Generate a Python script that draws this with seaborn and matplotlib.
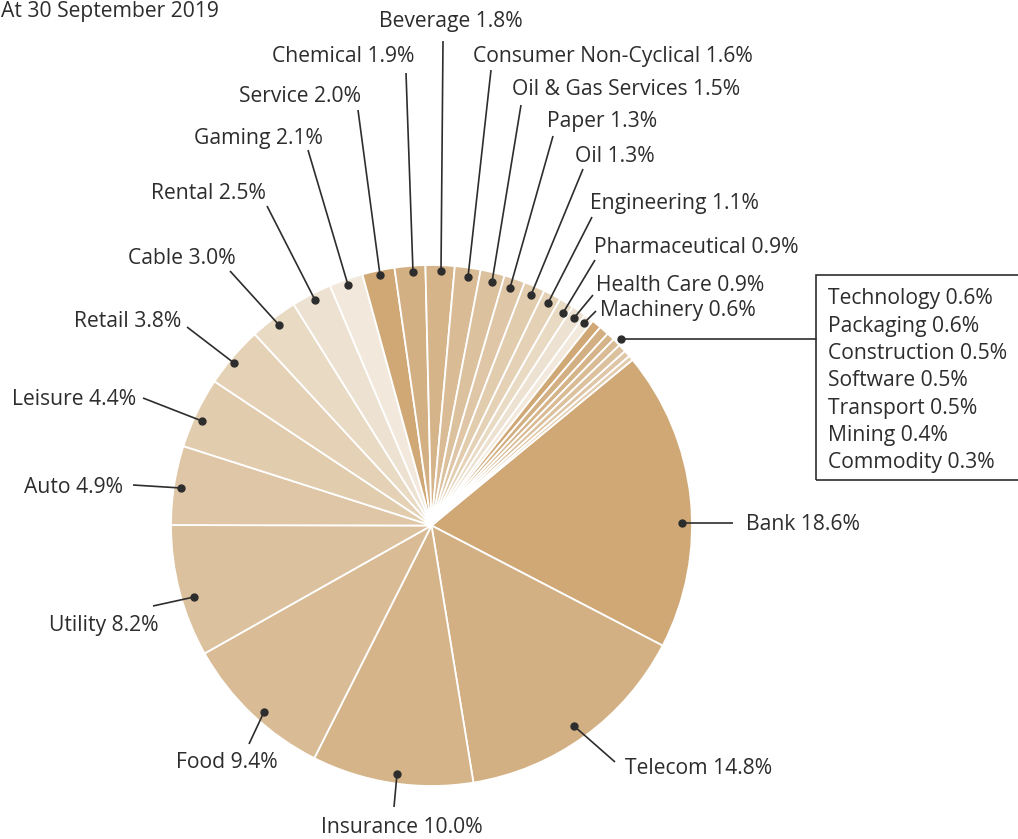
import matplotlib
matplotlib.use("Agg")
import matplotlib.pyplot as plt
import seaborn as sns
from matplotlib.patches import Rectangle

sns.set_theme(style="white")
plt.rcParams['font.family'] = ['Open Sans', 'DejaVu Sans']

# ---------------- data (clockwise from Bank) ----------------
sectors = ["Bank", "Telecom", "Insurance", "Food", "Utility", "Auto", "Leisure",
           "Retail", "Cable", "Rental", "Gaming", "Service", "Chemical", "Beverage",
           "Consumer Non-Cyclical", "Oil & Gas Services", "Paper", "Oil",
           "Engineering", "Pharmaceutical", "Health Care", "Machinery",
           "Technology", "Packaging", "Construction", "Software", "Transport",
           "Mining", "Commodity"]
shares = [18.6, 14.8, 10.0, 9.4, 8.2, 4.9, 4.4, 3.8, 3.0, 2.5, 2.1, 2.0, 1.9, 1.8,
          1.6, 1.5, 1.3, 1.3, 1.1, 0.9, 0.9, 0.6, 0.6, 0.6, 0.5, 0.5, 0.5, 0.4, 0.3]
boxed = ["Technology", "Packaging", "Construction", "Software", "Transport",
         "Mining", "Commodity"]
title_text = "At 30 September 2019"

# 11-step tan palette, repeating
shade_cycle = ["#CFA876", "#D3B083", "#D5B48A", "#D9BC96", "#DCC19E", "#DFC6A6",
               "#E2CCAE", "#E5D2B6", "#E9DAC4", "#EDE2D1", "#F2E9DC"]
palette = sns.color_palette(shade_cycle)
colors = [palette[i % len(palette)] for i in range(len(shares))]

# ---------------- layout (pixel coords, y downward) ----------------
W, H = 1018, 839
CX, CY, R = 431.5, 525.5, 260.5
# label: (text anchor x, y, ha, line start x, y, dot x, y)
layout = {
    "Bank":        (746, 523, "left", 733, 523, 682, 523),
    "Telecom":     (625, 767, "left", 615, 762, 574, 726),
    "Insurance":   (402, 826, "center", 394, 807, 397, 774),
    "Food":        (227, 761, "center", 249, 744, 264, 712),
    "Utility":     (159, 624, "right", 153, 606, 194, 597),
    "Auto":        (123, 486, "right", 133, 485, 181, 488),
    "Leisure":     (136, 398, "right", 143, 398, 202, 421),
    "Retail":      (181, 320, "right", 187, 327, 234, 363),
    "Cable":       (236, 257, "right", 230, 271, 279, 325),
    "Rental":      (266, 192, "right", 267, 206, 315, 300),
    "Gaming":      (323, 137, "right", 308, 150, 348, 285),
    "Service":     (361, 95, "right", 358, 110, 380, 275),
    "Chemical":    (414, 55, "right", 406, 73, 413, 272),
    "Beverage":    (451, 20, "center", 443, 41, 441, 271),
    "Consumer Non-Cyclical": (473, 55, "left", 491, 70, 468, 277),
    "Oil & Gas Services":    (512, 88, "left", 521, 105, 492, 282),
    "Paper":       (547, 120, "left", 553, 136, 510, 288),
    "Oil":         (575, 155, "left", 583, 169, 531, 295),
    "Engineering": (590, 202, "left", 592, 217, 548, 303),
    "Pharmaceutical": (594, 246, "left", 595, 260, 563, 313),
    "Health Care": (596, 284, "left", 593, 295, 574, 318),
    "Machinery":   (600, 309, "left", 596, 311, 584, 323),
}

TXT = "#2d2d2d"
FS = 15.2
DY = 1.5  # small baseline nudge

fig = plt.figure(figsize=(W / 100, H / 100), dpi=100)
ax = fig.add_axes([0, 0, 1, 1])

ax.pie(shares, colors=colors, startangle=39.5, counterclock=False,
       center=(CX, H - CY), radius=R, frame=False,
       wedgeprops=dict(edgecolor="white", linewidth=1.3, antialiased=True))
ax.set_xlim(0, W)
ax.set_ylim(0, H)
ax.set_aspect("equal")
ax.axis("off")


def fy(y):
    return H - y


for name, val in zip(sectors, shares):
    if name not in layout:
        continue
    tx, ty, ha, lx, ly, dx, dy = layout[name]
    ax.plot([lx, dx], [fy(ly), fy(dy)], color=TXT, lw=1.2, solid_capstyle="butt")
    ax.plot([dx], [fy(dy)], "o", color=TXT, ms=5)
    ax.text(tx, fy(ty + DY), f"{name} {val:.1f}%", ha=ha, va="center",
            fontsize=FS, color=TXT)

# boxed small sectors
box_left, box_top, box_bottom = 816, 275, 480
ax.add_patch(Rectangle((box_left, fy(box_bottom)), 260, box_bottom - box_top,
                       fill=False, edgecolor=TXT, lw=1.2, clip_on=False))
ax.plot([box_left, 621], [fy(339), fy(339)], color=TXT, lw=1.2)
ax.plot([621], [fy(339)], "o", color=TXT, ms=5)
row_y = [297, 325, 352, 379, 407, 434, 461]
for name, yy in zip(boxed, row_y):
    val = shares[sectors.index(name)]
    ax.text(828, fy(yy + DY), f"{name} {val:.1f}%", ha="left", va="center",
            fontsize=FS, color=TXT)

ax.text(1, fy(11), title_text, ha="left", va="center", fontsize=FS,
        color=TXT)

fig.savefig("out.png", dpi=100, facecolor="white")
